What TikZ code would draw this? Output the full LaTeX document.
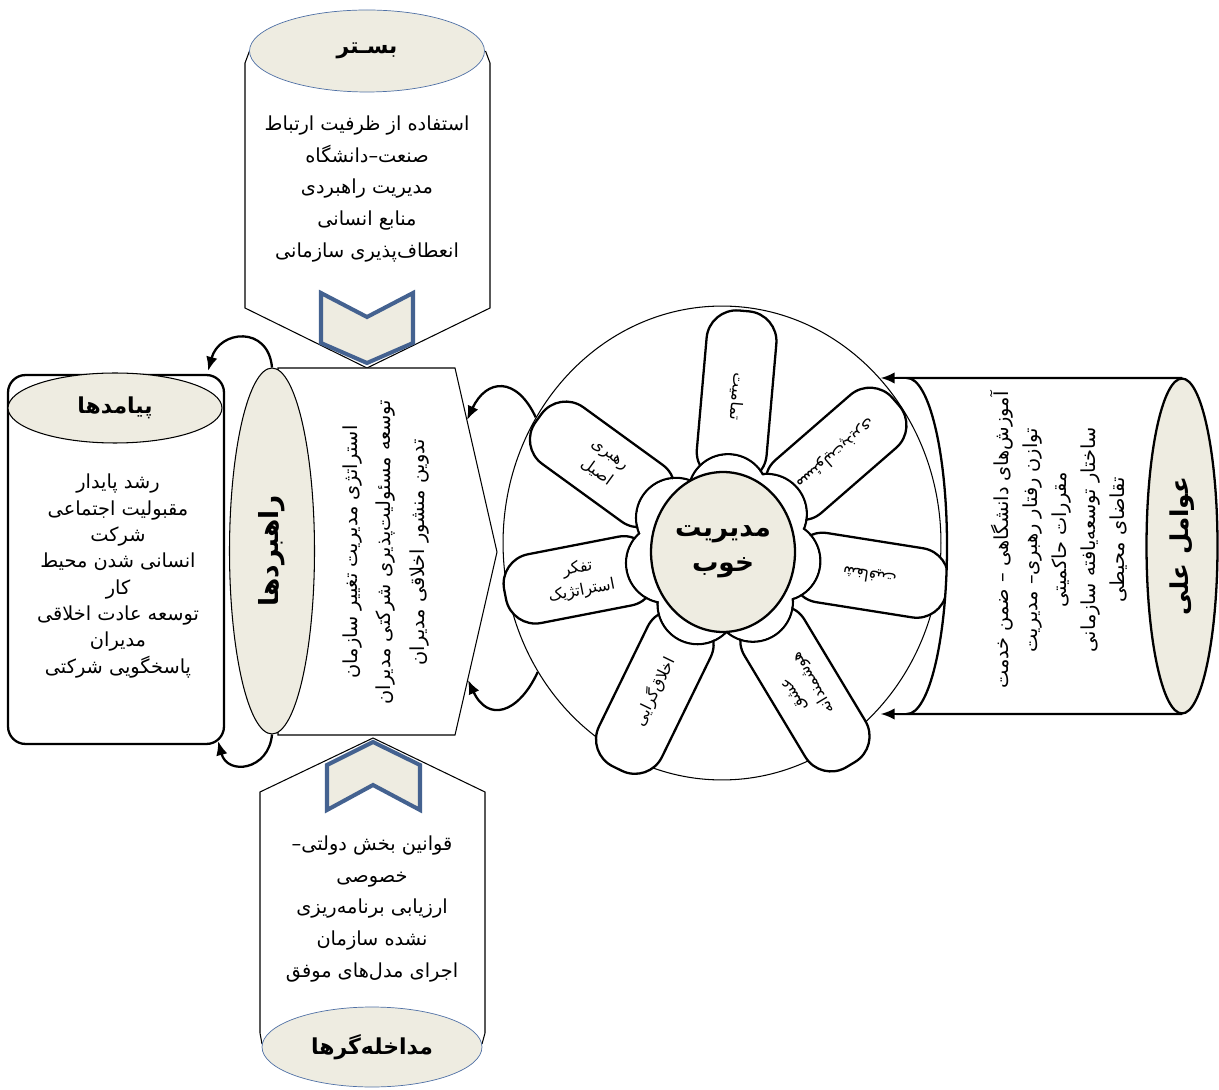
\documentclass[tikz,border=0pt]{standalone}
\usepackage{fontspec}
\usetikzlibrary{calc,shapes.geometric,arrows.meta}
\newfontfamily\arabicfont[Script=Arabic]{DejaVu Sans}
\TeXXeTstate=1
\newcommand*\fa[1]{\beginR #1\endR}
\definecolor{beige}{RGB}{238,236,225}
\definecolor{chevblue}{RGB}{68,98,144}
\definecolor{rimblue}{RGB}{79,112,165}

\begin{document}
\begin{tikzpicture}[x=0.02cm,y=0.02cm,>={Latex[length=8pt,width=6.5pt]},
  thinny/.style={line width=0.6pt},
  thicky/.style={line width=1.3pt},
  txt/.style={font=\arabicfont\fontsize{11}{18}\selectfont,align=center},
  head/.style={ellipse,draw,fill=beige,inner sep=0pt,font=\arabicfont\bfseries\fontsize{12.5}{15}\selectfont},
  chev/.style={draw=chevblue,line width=2.3pt,fill=beige,line join=miter},
  petal/.style={rectangle,draw,thicky,fill=white,rounded corners=0.6cm,minimum height=1.4cm,inner sep=0pt,align=center,font=\arabicfont\fontsize{9}{13}\selectfont}]
\useasboundingbox (0,0) rectangle (1219,1089);

% context (top)
\draw[thinny,fill=white] (249.5,1038) -- (245,1026) -- (245,781) -- (367,721) -- (490,781) -- (490,1026) -- (485.5,1038);
\node[head,draw=rimblue,minimum width=4.7cm,minimum height=1.64cm] (bastar) at (367,1038) {\fa{بسـتر}};
\node[txt] (bastartxt) at (367,900) {\fa{استفاده از ظرفیت ارتباط}\\\fa{صنعت–دانشگاه}\\\fa{مدیریت راهبردی}\\\fa{منابع انسانی}\\\fa{انعطاف‌پذیری سازمانی}};
\draw[chev] (321,796) -- (367,772) -- (413,796) -- (413,746) -- (367,726) -- (321,746) -- cycle;

% intervening (bottom)
\draw[thinny,fill=white] (262,45) -- (260,56) -- (260,297) -- (373,351) -- (485,297) -- (485,56) -- (482,45);
\node[head,draw=rimblue,minimum width=4.4cm,minimum height=1.6cm] (modakhele) at (372,42) {\fa{مداخله‌گرها}};
\node[txt] (modakheletxt) at (372,180) {\fa{قوانین بخش دولتی–}\\\fa{خصوصی}\\\fa{ارزیابی برنامه‌ریزی}\\\fa{نشده سازمان}\\\fa{اجرای مدل‌های موفق}};
\draw[chev] (327,324) -- (373,347) -- (420,324) -- (420,279) -- (373,304) -- (327,279) -- cycle;

% strategies
\draw[thinny,fill=white] (278,721) -- (455,721) -- (497,537) -- (455,354) -- (278,354) -- cycle;
\node[head,thinny,rotate=90,minimum width=7.32cm,minimum height=1.7cm,font=\arabicfont\bfseries\fontsize{15}{18}\selectfont] (rahbord) at (272,538) {\fa{راهبردها}};
\node[txt,rotate=90,font=\arabicfont\fontsize{11}{19}\selectfont] (rahbordtxt) at (386,537) {\fa{استراتژی مدیریت تغییر سازمان}\\\fa{توسعه مسئولیت‌پذیری شرکتی مدیران}\\\fa{تدوین منشور اخلاقی مدیران}};
\coordinate (chevtop) at (467,669);
\coordinate (chevbot) at (468,409);

% outcomes
\node[draw,thicky,rounded corners=0.35cm,minimum width=4.32cm,minimum height=7.38cm] (payamad) at (116,529.5) {};
\node[head,thinny,minimum width=4.28cm,minimum height=1.4cm] (payamadhead) at (115,681) {\fa{پیامدها}};
\node[txt,font=\arabicfont\fontsize{11}{15}\selectfont] (payamadtxt) at (118,513) {\fa{رشد پایدار}\\\fa{مقبولیت اجتماعی}\\\fa{شرکت}\\\fa{انسانی شدن محیط}\\\fa{کار}\\\fa{توسعه عادت اخلاقی}\\\fa{مدیران}\\\fa{پاسخگویی شرکتی}};

% good management wheel
\node[ellipse,draw,thinny,minimum width=8.76cm,minimum height=9.48cm] (wheel) at (722,546) {};
\coordinate (c) at (723,537);
\node[petal,rotate=-95,minimum width=3.44cm] (tamamiat) at ($(c)+(85:156)$) {\fa{تمامیت}};
\node[petal,rotate=-139,minimum width=3.18cm] (masuliat) at ($(c)+(41:149.5)$) {\fa{مسئولیت‌پذیری}};
\node[petal,rotate=171,minimum width=3.14cm] (shafafiat) at ($(c)+(-9:148.5)$) {\fa{شفافیت}};
\node[petal,rotate=121,minimum width=3.56cm] (eshgh) at ($(c)+(-59:159)$) {\fa{عشق}\\\fa{هوشمندانه}};
\node[petal,rotate=64,minimum width=3.42cm] (akhlagh) at ($(c)+(-116:155.5)$) {\fa{اخلاق‌گرایی}};
\node[petal,rotate=11,minimum width=3.04cm] (tafakor) at ($(c)+(191:146)$) {\fa{تفکر}\\\fa{استراتژیک}};
\node[petal,rotate=-36,minimum width=3.16cm] (rahbari) at ($(c)+(144:149)$) {\fa{رهبری}\\\fa{اصیل}};
\foreach \a in {85,41,-9,-59,-116,191,144}
  \draw[thicky] ($(c)+(\a:58)$) circle (40);
\foreach \a in {85,41,-9,-59,-116,191,144}
  \fill[white] ($(c)+(\a:58)$) circle (38.8);
\node[ellipse,draw,thicky,fill=beige,minimum width=2.88cm,minimum height=3.2cm,inner sep=0pt,align=center,font=\arabicfont\bfseries\fontsize{15}{20}\selectfont] (core) at (c) {\fa{مدیریت}\\\fa{خوب}};

% causal factors
\draw[thicky,fill=white] (1182,711) -- (907,711) arc[start angle=90,end angle=-90,x radius=40,y radius=168] -- (1182,375);
\coordinate (cyltop) at (907,711);
\coordinate (cylbot) at (907,375);
\node[head,thicky,rotate=90,minimum width=6.7cm,minimum height=1.42cm,font=\arabicfont\bfseries\fontsize{14}{17}\selectfont] (elal) at (1182,543) {\fa{عوامل علی}};
\node[txt,rotate=90,font=\arabicfont\fontsize{11}{16.5}\selectfont] (elaltxt) at (1059,549) {\fa{آموزش‌های دانشگاهی – ضمن خدمت}\\\fa{توازن رفتار رهبری– مدیریت}\\\fa{مقررات حاکمیتی}\\\fa{ساختار توسعه‌یافته سازمانی}\\\fa{تقاضای محیطی}};

% connectors
\begin{scope}[thicky,->]
\draw (cyltop) -- (wheel.46 |- cyltop);
\draw (cylbot) -- (wheel.-46 |- cylbot);
\draw (wheel.146) to[out=115,in=65,looseness=1.7] (chevtop);
\draw (wheel.-145) to[out=-115,in=-65,looseness=1.7] (chevbot);
% rahbord is turned: east is its top, west its bottom
\draw (rahbord.east) to[out=95,in=75,looseness=1.7] ([xshift=-0.34cm,yshift=0.06cm]payamad.north east);
\draw (rahbord.west) to[out=-95,in=-75,looseness=1.7] ([xshift=-0.14cm,yshift=0.08cm]payamad.south east);
\end{scope}

\end{tikzpicture}
\end{document}
